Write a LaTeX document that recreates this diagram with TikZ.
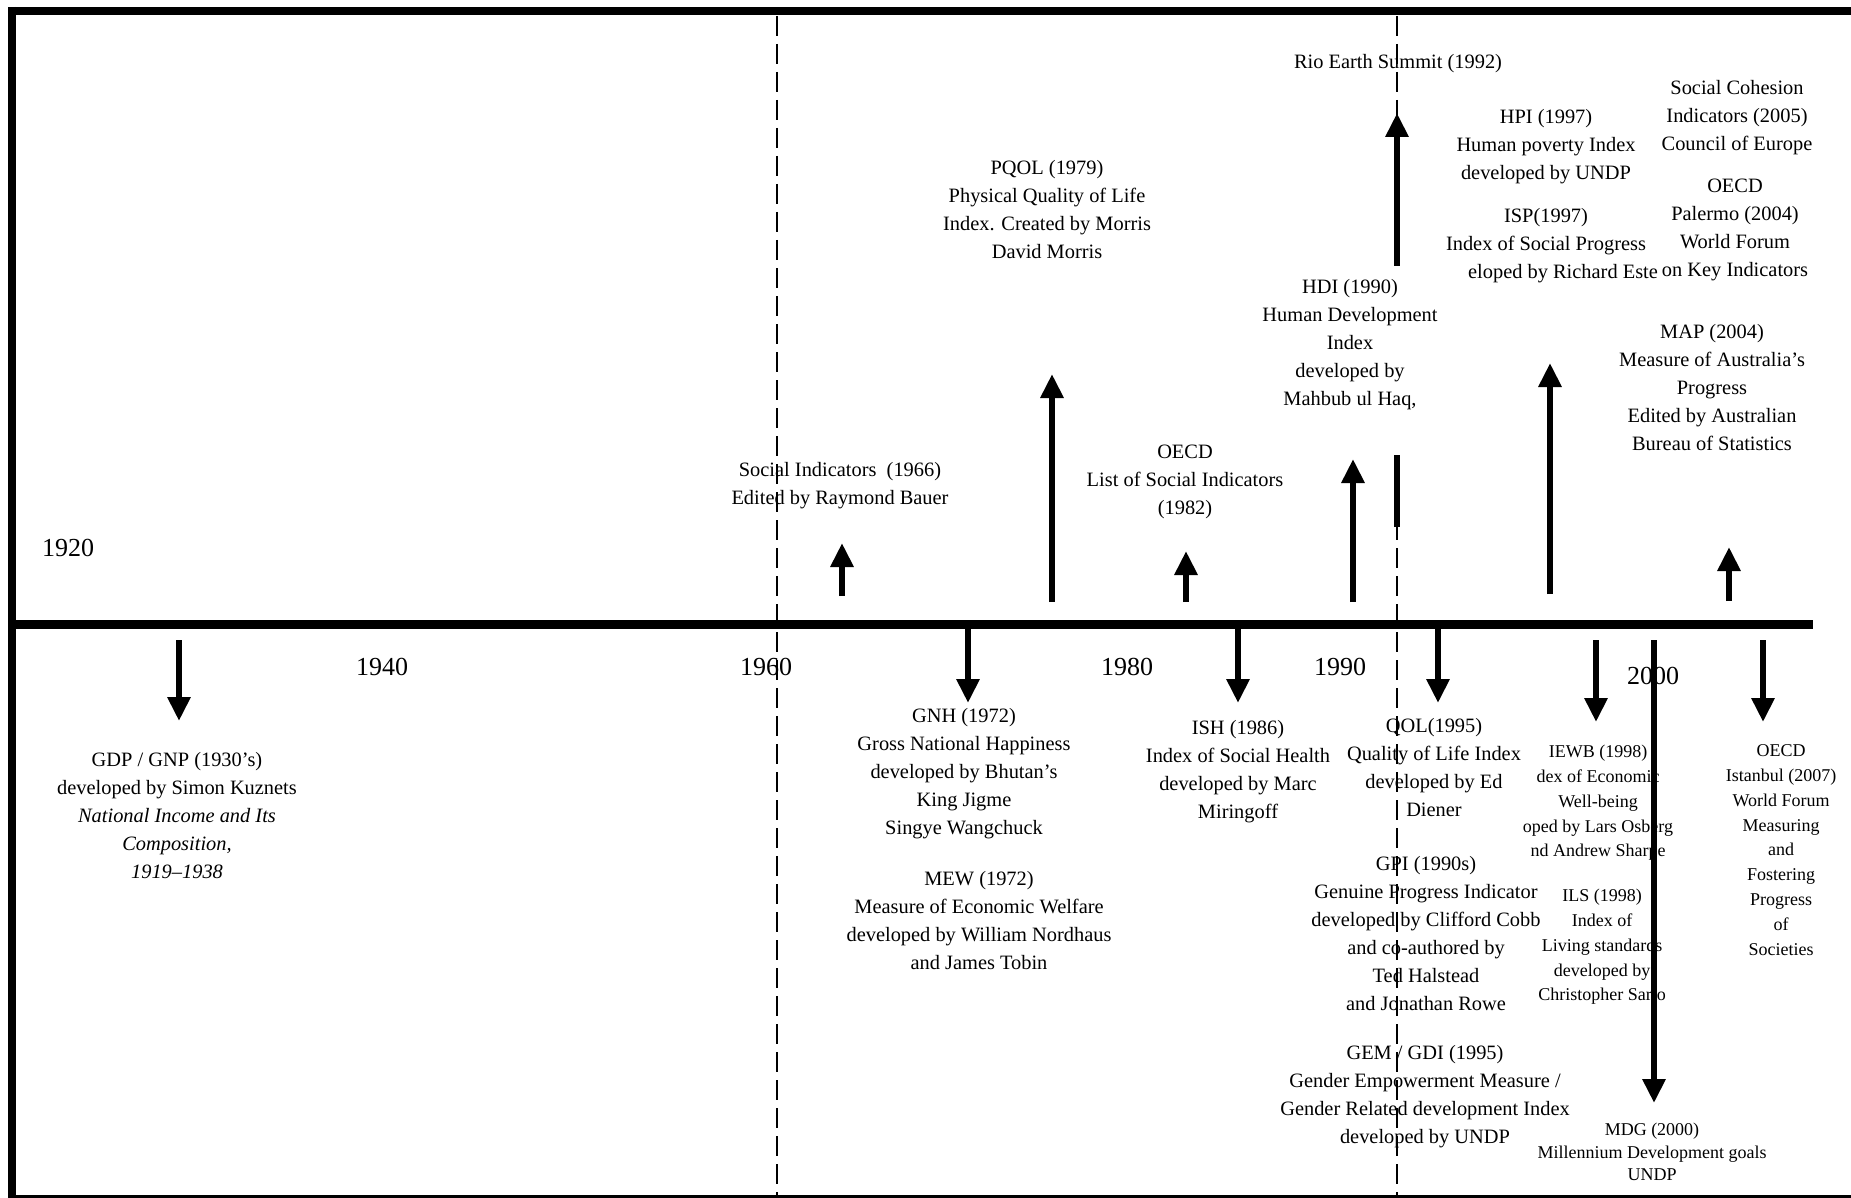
\documentclass[tikz,border=0pt]{standalone}
\usepackage{fontspec}
\setmainfont{Liberation Serif}
\usetikzlibrary{arrows.meta}
\tikzset{
  >={Triangle[width=11pt,length=12pt]},
  frameline/.style={line width=4pt,draw=black},
  axis/.style={line width=4.5pt,draw=black},
  era/.style={draw=black,line width=1.2pt,dash pattern=on 10pt off 4pt},
  event/.style={->,line width=3pt,draw=black},
  year/.style={inner sep=0pt,font=\fontsize{13}{15}\selectfont},
  entry/.style={align=center,inner sep=1pt,font=\fontsize{10.2}{14}\selectfont},
  note/.style={entry,font=\fontsize{9}{12.4}\selectfont},
  mdgnote/.style={entry,font=\fontsize{9}{11.3}\selectfont}
}

\begin{document}
\begin{tikzpicture}[x=0.5pt,y=-0.5pt]
  \useasboundingbox (0,0) rectangle (1851,1198);

  % Frame
  \draw[frameline] (8,11) -- (1851,11);
  \draw[frameline] (12,7) -- (12,1198);
  \draw[line width=2pt] (8,1197) -- (1851,1197);

  % Era boundaries
  \coordinate (e60-top) at (777,16);  \coordinate (e60-bot) at (777,1198);
  \coordinate (e90-top) at (1397,16); \coordinate (e90-bot) at (1397,1198);
  \draw[era] (e60-top) -- (e60-bot);
  \draw[era] (e90-top) -- (e90-bot);

  % Timeline
  \coordinate (t0) at (12,624);
  \coordinate (t1) at (1813,624);
  \draw[axis] (t0) -- (t1);

  % Years
  \node[year] (y1920) at (68,548) {1920};
  \node[year] (y1940) at (382,667) {1940};
  \node[year] (y1960) at (766,667) {1960};
  \node[year] (y1980) at (1127,667) {1980};
  \node[year] (y1990) at (1340,667) {1990};
  \node[year] (y2000) at (1653,676) {2000};

  % Rio arrow, partly hidden behind the HDI box
  \coordinate (rio-foot) at (1397,527); \coordinate (rio-tip) at (1397,113);
  \draw[event] (rio-foot) -- (rio-tip);
  \node[entry,fill=white,inner xsep=4pt,inner ysep=6.5pt,anchor=north] (hdi) at (1350,266)
    {HDI (1990)\\Human Development\\Index\\developed by\\Mahbub ul Haq,\\[4pt]\mbox{}};

  % Events above the timeline
  \node[entry] (rio) at (1398,64) {Rio Earth Summit (1992)};
  \node[entry] (pqol) at (1047,210) {PQOL (1979)\\Physical Quality of Life\\Index. Created by Morris\\David Morris};
  \node[entry] (si) at (840,486) {Social Indicators\enspace(1966)\\Edited by Raymond Bauer};
  \node[entry] (oecdl) at (1185,482) {OECD\\List of Social Indicators\\(1982)};
  \node[entry] (hpi) at (1546,147) {HPI (1997)\\Human poverty Index\\developed by UNDP};
  \node[entry] (isp) at (1546,246) {ISP(1997)\\Index of Social Progress\\\hspace*{17pt}eloped by Richard Este};
  \node[entry] (cohesion) at (1737,118) {Social Cohesion\\Indicators (2005)\\Council of Europe};
  \node[entry] (palermo) at (1735,230) {OECD\\Palermo (2004)\\World Forum\\on Key Indicators};
  \node[entry] (map) at (1712,388) {MAP (2004)\\Measure of Australia's\\Progress\\Edited by Australian\\Bureau of Statistics};

  % Events below the timeline
  \node[entry] (gdp) at (177,816) {GDP / GNP (1930's)\\developed by Simon Kuznets\\\textit{National Income and Its}\\\textit{Composition,}\\\textit{1919--1938}};
  \node[entry] (gnh) at (964,774) {GNH (1972)\\Gross National Happiness\\developed by Bhutan's\\King Jigme\\Singye Wangchuck};
  \node[entry] (mew) at (979,921) {MEW (1972)\\Measure of Economic Welfare\\developed by William Nordhaus\\and James Tobin};
  \node[entry] (ish) at (1238,772) {ISH (1986)\\Index of Social Health\\developed by Marc\\Miringoff};
  \node[entry] (qol) at (1434,768) {QOL(1995)\\Quality of Life Index\\developed by Ed\\Diener};
  \node[entry] (gpi) at (1426,934) {GPI (1990s)\\Genuine Progress Indicator\\developed by Clifford Cobb\\and co-authored by\\Ted Halstead\\and Jonathan Rowe};
  \node[entry] (gem) at (1425,1097) {GEM / GDI (1995)\\Gender Empowerment Measure /\\Gender Related development Index\\developed by UNDP};
  \node[note] (iewb) at (1598,803) {IEWB (1998)\\dex of Economic\\Well-being\\oped by Lars Osberg\\nd Andrew Sharpe};
  \node[note] (ils) at (1602,947) {ILS (1998)\\Index of\\Living standards\\developed by\\Christopher Sarlo};
  \node[note] (istanbul) at (1781,850) {OECD\\Istanbul (2007)\\World Forum\\Measuring\\and\\Fostering\\Progress\\of\\Societies};
  \node[mdgnote] (mdg) at (1652,1152) {MDG (2000)\\Millennium Development goals\\UNDP};

  % Arrows up
  \coordinate (si-foot) at (842,596);     \coordinate (si-tip) at (842,543);
  \coordinate (pqol-foot) at (1052,602);  \coordinate (pqol-tip) at (1052,374);
  \coordinate (oecdl-foot) at (1186,602); \coordinate (oecdl-tip) at (1186,551);
  \coordinate (hdi-foot) at (1353,602);   \coordinate (hdi-tip) at (1353,459);
  \coordinate (hpi-foot) at (1550,594);   \coordinate (hpi-tip) at (1550,363);
  \coordinate (map-foot) at (1729,601);   \coordinate (map-tip) at (1729,547);
  \draw[event] (si-foot) -- (si-tip);
  \draw[event] (pqol-foot) -- (pqol-tip);
  \draw[event] (oecdl-foot) -- (oecdl-tip);
  \draw[event] (hdi-foot) -- (hdi-tip);
  \draw[event] (hpi-foot) -- (hpi-tip);
  \draw[event] (map-foot) -- (map-tip);

  % Arrows down
  \coordinate (gdp-root) at (179,640);   \coordinate (gdp-tip) at (179,721);
  \coordinate (gnh-root) at (968,628);   \coordinate (gnh-tip) at (968,703);
  \coordinate (ish-root) at (1238,628);  \coordinate (ish-tip) at (1238,703);
  \coordinate (qol-root) at (1438,628);  \coordinate (qol-tip) at (1438,703);
  \coordinate (iewb-root) at (1596,640); \coordinate (iewb-tip) at (1596,722);
  \coordinate (mdg-root) at (1654,640);  \coordinate (mdg-tip) at (1654,1103);
  \coordinate (ist-root) at (1763,640);  \coordinate (ist-tip) at (1763,722);
  \draw[event] (gdp-root) -- (gdp-tip);
  \draw[event] (gnh-root) -- (gnh-tip);
  \draw[event] (ish-root) -- (ish-tip);
  \draw[event] (qol-root) -- (qol-tip);
  \draw[event] (iewb-root) -- (iewb-tip);
  \draw[event] (mdg-root) -- (mdg-tip);
  \draw[event] (ist-root) -- (ist-tip);
\end{tikzpicture}
\end{document}
